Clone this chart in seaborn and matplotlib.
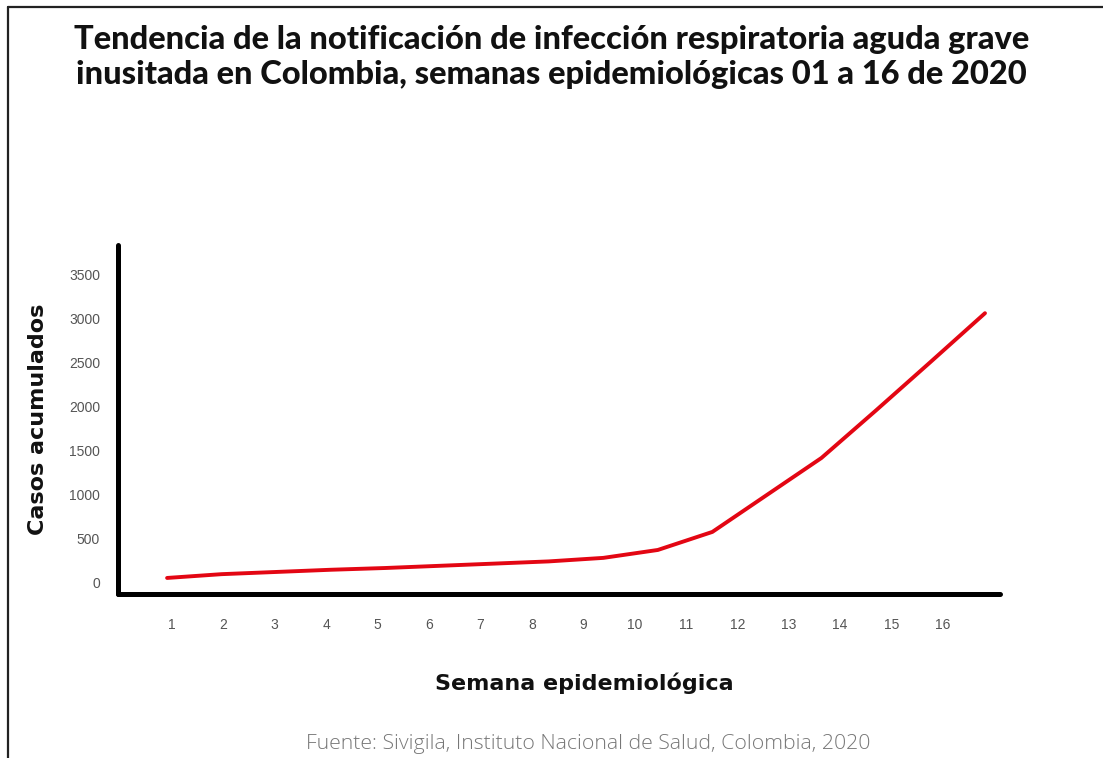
"""
Tendencia de la notificación de IRAG inusitado, Colombia 2020
"""

import pandas as pd
import matplotlib.pyplot as plt
import matplotlib.lines as mlines
import seaborn as sns

# Datos
semanas = list(range(1, 17))
casos_acumulados = [57, 100, 125, 150, 170, 195, 220, 245, 285, 375, 580,
                    1000, 1420, 1960, 2510, 3065]
ticks_y = [0, 500, 1000, 1500, 2000, 2500, 3000, 3500]
etiquetas_x = [str(s) for s in semanas]

titulo = ("Tendencia de la notificación de infección respiratoria aguda grave\n"
          "inusitada en Colombia, semanas epidemiológicas 01 a 16 de 2020")
fuente = "Fuente: Sivigila, Instituto Nacional de Salud, Colombia, 2020"

sns.set_style("white")
plt.rcParams["font.family"] = ["Lato", "DejaVu Sans"]

df = pd.DataFrame({"Semana": semanas, "Casos": casos_acumulados})

fig = plt.figure(figsize=(11.03, 7.58), dpi=100)
ax = fig.add_axes([0.107, 0.2164, 0.7996, 0.4604])

sns.lineplot(data=df, x="Semana", y="Casos", color="#e30613",
             linewidth=2.8, ax=ax)

fuente_ticks = ["Liberation Sans Narrow", "Liberation Sans"]

ax.set_xlim(0.10, 16.275)
ax.set_ylim(-125, 3840)
ax.set_yticks(ticks_y)
ax.set_yticklabels([str(t) for t in ticks_y], fontsize=10, color="#555555",
                   family=fuente_ticks)
ax.tick_params(axis="y", length=0, pad=13)
ax.set_xticks([])
ax.set_xlabel("")
ax.set_ylabel("Casos acumulados", fontsize=16, fontweight="bold",
              family="DejaVu Sans", color="#111111", labelpad=15)

for lado in ["top", "right"]:
    ax.spines[lado].set_visible(False)
for lado in ["left", "bottom"]:
    ax.spines[lado].set_linewidth(3.6)
    ax.spines[lado].set_color("black")
    ax.spines[lado].set_capstyle("round")

# Eje secundario solo para las etiquetas de semana
ax2 = ax.twiny()
ax2.xaxis.set_ticks_position("bottom")
ax2.set_xlim(-0.05, 17.11)
ax2.set_xticks(semanas)
ax2.set_xticklabels(etiquetas_x, fontsize=10, color="#555555",
                    family=fuente_ticks)
ax2.tick_params(axis="x", length=0, pad=17)
for lado in ax2.spines:
    ax2.spines[lado].set_visible(False)

fig.text(0.53, 0.099, "Semana epidemiológica", ha="center", va="center",
         fontsize=16, fontweight="bold", family="DejaVu Sans",
         color="#111111")
fig.text(0.533, 0.019, fuente, ha="center", va="center", fontsize=15.3,
         color="#777777", fontweight="light", family="Open Sans")
fig.text(0.5, 0.925, titulo, ha="center", va="center", fontsize=23.5,
         fontweight="black", linespacing=1.25, color="#111111")

# Marco superior e izquierdo
fig.add_artist(mlines.Line2D([8 / 1103, 1], [1 - 7 / 758, 1 - 7 / 758],
                             color="#222222", linewidth=1.6))
fig.add_artist(mlines.Line2D([8 / 1103, 8 / 1103], [0, 1 - 7 / 758],
                             color="#222222", linewidth=1.6))

fig.savefig("out.png", dpi=100)
